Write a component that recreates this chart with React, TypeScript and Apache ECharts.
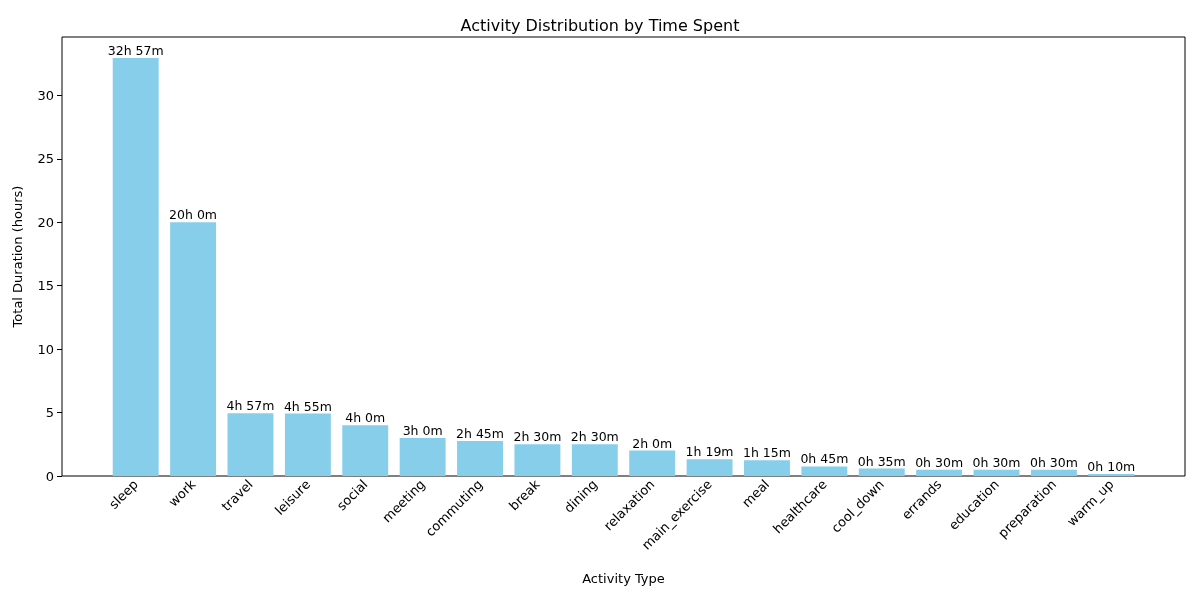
import { useEffect, useRef } from "react";
import * as echarts from "echarts";

const activities = ["sleep", "work", "travel", "leisure", "social", "meeting", "commuting", "break", "dining", "relaxation", "main_exercise", "meal", "healthcare", "cool_down", "errands", "education", "preparation", "warm_up"];
const minutes = [1977, 1200, 297, 295, 240, 180, 165, 150, 150, 120, 79, 75, 45, 35, 30, 30, 30, 10];

const fmt = (m: number) => `${Math.floor(m / 60)}h ${m % 60}m`;
const font = "DejaVu Sans";

const App = () => {
  const ref = useRef<HTMLDivElement>(null);

  useEffect(() => {
    if (!ref.current) return;
    const chart = echarts.init(ref.current, null, { renderer: "svg" });
    const yMax = 34.6;
    chart.setOption({
      animation: false,
      textStyle: { fontFamily: font },
      title: {
        text: "Activity Distribution by Time Spent",
        left: "center",
        top: 12,
        textStyle: { fontSize: 16, fontWeight: "normal", color: "#000", fontFamily: font },
      },
      grid: [
        { left: 62, right: 15, top: 37, bottom: 124, show: true, borderColor: "#000", borderWidth: 1, backgroundColor: "transparent" },
        { left: 107, right: 60, top: 37, bottom: 124 },
      ],
      xAxis: [
        { gridIndex: 0, type: "value", show: false, min: 0, max: 1 },
        {
          gridIndex: 1,
          type: "category",
          data: activities,
          axisLine: { show: false },
          axisTick: { alignWithLabel: true, length: 5, lineStyle: { color: "#000" } },
          axisLabel: { rotate: 45, interval: 0, color: "#000", fontSize: 13, margin: 6 },
          name: "Activity Type",
          nameLocation: "middle",
          nameGap: 96,
          nameTextStyle: { color: "#000", fontSize: 13 },
        },
      ],
      yAxis: [
        {
          gridIndex: 0,
          type: "value",
          min: 0,
          max: yMax,
          interval: 5,
          axisLine: { show: false },
          axisTick: { show: true, length: 5, lineStyle: { color: "#000" } },
          axisLabel: { color: "#000", fontSize: 13, showMaxLabel: false },
          splitLine: { show: false },
          name: "Total Duration (hours)",
          nameLocation: "middle",
          nameGap: 38,
          nameTextStyle: { color: "#000", fontSize: 13 },
        },
        { gridIndex: 1, type: "value", min: 0, max: yMax, show: false, splitLine: { show: false } },
      ],
      series: [
        {
          type: "bar",
          xAxisIndex: 1,
          yAxisIndex: 1,
          data: minutes.map((m) => m / 60),
          barWidth: "80%",
          itemStyle: { color: "#87ceeb" },
          label: {
            show: true,
            position: "top",
            distance: 1,
            color: "#000",
            fontSize: 12.5,
            formatter: (p: any) => fmt(minutes[p.dataIndex]),
          },
        },
      ],
    });
    return () => chart.dispose();
  }, []);

  return <div ref={ref} style={{ position: "fixed", left: 0, top: 0, width: 1200, height: 600 }} />;
};

export default App;
